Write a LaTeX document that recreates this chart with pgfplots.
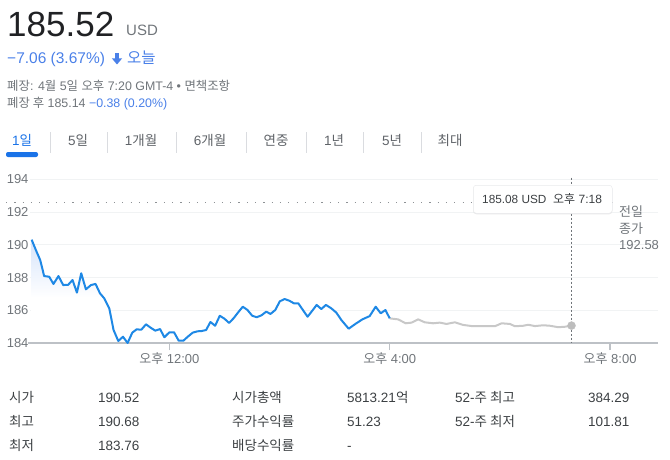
\documentclass[border=0pt]{standalone}
\usepackage{pgfplots}
\pgfplotsset{compat=1.18}
\usetikzlibrary{shadows}
\usepackage{fontspec}
\setmainfont{Liberation Sans}
\newfontfamily\kr{Noto Sans CJK KR}
\newcommand\K[1]{{\kr #1}}
\newcommand\fs[1]{\fontsize{#1}{#1}\selectfont}
\definecolor{tdark}{HTML}{202124}
\definecolor{tmid}{HTML}{3C4043}
\definecolor{tgray}{HTML}{70757A}
\definecolor{tabgray}{HTML}{5F6368}
\definecolor{blueT}{HTML}{4A80E8}
\definecolor{tabblue}{HTML}{1A73E8}
\definecolor{lineblue}{HTML}{1E88E5}
\definecolor{linegray}{HTML}{C8C8C8}
\definecolor{dotgray}{HTML}{BDBDBD}
\definecolor{gridc}{HTML}{F1F3F4}
\definecolor{basec}{HTML}{BDC1C6}
\definecolor{sepc}{HTML}{DADCE0}
\definecolor{fillblue}{HTML}{D6E4FA}
\pgfdeclareverticalshading{fadeblue}{100bp}{color(0bp)=(white); color(47bp)=(white); color(75bp)=(fillblue); color(100bp)=(fillblue)}

\pgfplotstableread{
h v
9.5 190.32
9.576 189.69
9.655 189.08
9.727 188.10
9.818 188.06
9.896 187.62
9.987 188.10
10.073 187.55
10.164 187.57
10.242 187.86
10.322 187.09
10.4 188.27
10.485 187.29
10.576 187.55
10.66 187.62
10.74 187.05
10.818 186.74
10.909 186.13
10.987 184.81
11.073 184.14
11.158 184.40
11.242 184.02
11.327 184.65
11.405 184.85
11.491 184.83
11.576 185.16
11.66 184.95
11.745 184.77
11.831 184.87
11.909 184.37
12.0 184.67
12.085 184.67
12.169 184.16
12.255 184.16
12.333 184.40
12.424 184.65
12.509 184.73
12.587 184.75
12.667 184.81
12.745 185.30
12.831 185.07
12.915 185.68
13.0 185.50
13.085 185.24
13.169 185.54
13.249 185.89
13.333 186.23
13.418 186.03
13.504 185.68
13.587 185.59
13.673 185.71
13.758 185.93
13.836 185.79
13.922 186.03
14.005 186.56
14.091 186.70
14.176 186.60
14.26 186.44
14.34 186.44
14.424 186.03
14.509 185.62
14.595 185.99
14.673 186.34
14.758 186.09
14.842 186.34
14.94 186.13
15.031 185.87
15.122 185.42
15.255 184.89
15.376 185.18
15.504 185.46
15.636 185.66
15.745 186.23
15.836 185.83
15.922 186.03
16.0 185.52
}\regular

\pgfplotstableread{
h v
16.0 185.52
16.151 185.46
16.291 185.22
16.395 185.26
16.515 185.46
16.636 185.28
16.787 185.22
16.909 185.26
17.031 185.18
17.182 185.28
17.333 185.12
17.515 185.04
17.758 185.04
17.909 185.04
18.031 185.22
18.182 185.18
18.273 185.04
18.424 185.07
18.515 185.13
18.636 185.05
18.787 185.10
18.909 185.07
19.06 184.98
19.182 185.01
19.3 185.08
}\afterhours

\begin{document}
\begin{tikzpicture}[x=1pt,y=1pt]
\useasboundingbox (0,0) rectangle (670,-460);

% header
\node[anchor=base west, inner sep=0, text=tdark] at (7,-37) {\fs{35}185.52};
\node[anchor=base west, inner sep=0, text=tgray] at (126,-36) {\fs{15}USD};
\node[anchor=base west, inner sep=0, text=blueT] at (7,-64) {\fs{15.5}−7.06 (3.67\%)};
\fill[blueT] (115.4,-53) rectangle (118.6,-59);
\fill[blueT] (111.8,-58.3) -- (122.2,-58.3) -- (117,-64.5) -- cycle;
\node[anchor=base west, inner sep=0, text=blueT] at (127,-64) {\fs{15.5}\K{오늘}};
\node[anchor=base west, inner sep=0, text=tgray] at (7,-91) {\fs{12.4}\K{폐장}: 4\K{월} 5\K{일} \K{오후} 7:20 GMT-4 • \K{면책조항}};
\node[anchor=base west, inner sep=0, text=tgray] at (7,-108) {\fs{12.4}\K{폐장 후} 185.14 \textcolor{blueT}{−0.38 (0.20\%)}};

% tabs
\foreach \cx/\lab in {78/5\K{일},141/1\K{개월},210/6\K{개월},276/\K{연중},334/1\K{년},392/5\K{년},450/\K{최대}}{
  \node[anchor=base, inner sep=0, text=tabgray] at (\cx,-146) {\fs{13.5}\lab};
}
\node[anchor=base, inner sep=0, text=tabblue] at (22,-146) {\fs{13.5}1\K{일}};
\foreach \sx in {50,107,176,246,306,363,421}{
  \draw[sepc, line width=0.8pt] (\sx,-132) -- (\sx,-153);
}
\fill[tabblue, rounded corners=2pt] (6,-157) rectangle (38,-152);

\begin{axis}[
  at={(30pt,-343.3pt)}, anchor=south west,
  scale only axis, width=628pt, height=164pt,
  xmin=9.47, xmax=20.87, ymin=184, ymax=194,
  axis line style={draw=none},
  ytick={184,186,...,194},
  ymajorgrids, grid style={color=gridc, line width=1pt},
  xtick={12,16,20},
  xticklabels={{\K{오후} 12:00},{\K{오후} 4:00},{\K{오후} 8:00}},
  tick pos=left,
  xtick align=outside, major tick length=7pt,
  xtick style={color=basec, line width=1.2pt},
  ytick style={draw=none},
  tick label style={font=\fs{13}, text=tgray},
  yticklabel style={xshift=2pt},
  xticklabel style={yshift=1pt},
  /pgf/number format/assume math mode=true,
  clip=false,
]
\addplot[draw=none, shading=fadeblue] table[x=h,y=v] {\regular} -- (axis cs:16,184) -- (axis cs:9.5,184) -- cycle;
\draw[color=basec, line width=2pt] ([xshift=-2pt]rel axis cs:0,0) -- (rel axis cs:1,0);
\draw[color=tgray!80, dash pattern=on 1.2pt off 7.1pt, line width=1.2pt] (axis cs:9.036,192.58) -- (axis cs:20.11,192.58);
\draw[color=tgray, dash pattern=on 2pt off 2pt, line width=0.8pt] (axis cs:19.3,194.1) -- (axis cs:19.3,184);
\addplot[color=linegray, line width=2pt, line join=round] table[x=h,y=v] {\afterhours};
\addplot[color=lineblue, line width=2pt, line join=round] table[x=h,y=v] {\regular};
\addplot[only marks, mark=*, mark size=4pt, color=dotgray] coordinates {(19.3,185.08)};
\end{axis}

% tooltip
\node[fill=white, draw=sepc!60, line width=0.5pt, rounded corners=3pt, drop shadow={opacity=0.18, shadow xshift=0pt, shadow yshift=-1pt}, minimum width=139pt, minimum height=28pt, anchor=north west, inner sep=0] at (473,-185) {};
\node[anchor=base west, inner sep=0, text=tmid] at (482,-203.5) {\fs{11.8}185.08 USD};
\node[anchor=base west, inner sep=0, text=tmid] at (553,-203.5) {\fs{12}\K{오후} 7:18};

% previous close label
\node[anchor=base west, inner sep=0, text=tgray] at (619,-216) {\fs{13}\K{전일}};
\node[anchor=base west, inner sep=0, text=tgray] at (619,-233) {\fs{13}\K{종가}};
\node[anchor=base west, inner sep=0, text=tgray] at (619,-249) {\fs{13}192.58};

% stats
\foreach \xx/\yy/\t in {9/402/\K{시가}, 9/426/\K{최고}, 9/450/\K{최저},
  98/402/190.52, 98/426/190.68, 98/450/183.76,
  232/402/\K{시가총액}, 232/426/\K{주가수익률}, 232/450/\K{배당수익률},
  347/402/5813.21\K{억}, 347/426/51.23, 347/450/-,
  455/402/52-\K{주 최고}, 455/426/52-\K{주 최저},
  588/402/384.29, 588/426/101.81}{
  \node[anchor=base west, inner sep=0, text=tmid] at (\xx,-\yy) {\fs{13.5}\t};
}
\end{tikzpicture}
\end{document}
